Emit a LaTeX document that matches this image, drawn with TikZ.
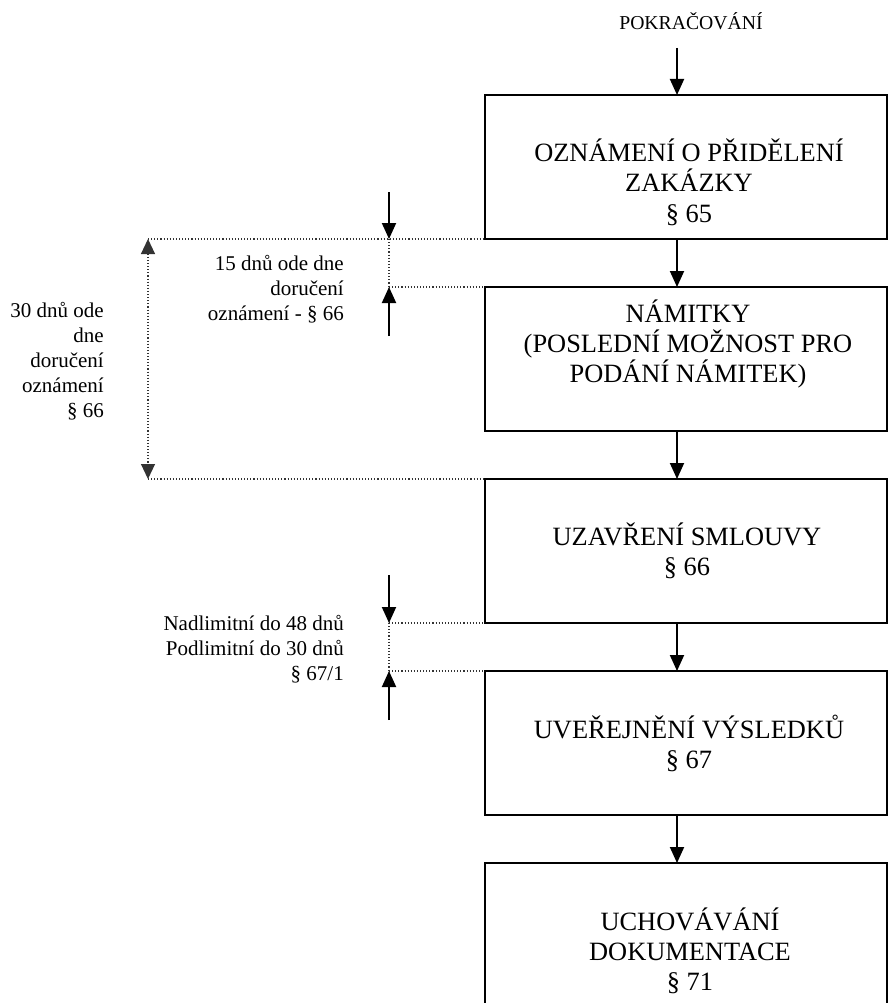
\documentclass[tikz,border=0pt]{standalone}
\usepackage{fontspec}
\setmainfont{Liberation Serif}
\usetikzlibrary{arrows.meta}
\begin{document}
\begin{tikzpicture}[x=1pt,y=-1pt,
 box/.style={draw, line width=2.2pt, minimum width=402pt, minimum height=144pt, inner sep=0pt, outer sep=0pt, anchor=north west},
 tallbox/.style={box, minimum height=170pt},
 boxtext/.style={anchor=base, align=center, font=\fontsize{26.4}{30}\selectfont, inner sep=0pt},
 lbl/.style={anchor=base east, align=right, font=\fontsize{21}{25}\selectfont, inner sep=0pt},
 toptext/.style={anchor=base, font=\fontsize{19.7}{24}\selectfont, inner sep=0pt},
 arr/.style={line width=1.9pt, -{Triangle[width=14pt,length=16pt]}},
 dotline/.style={line width=1.1pt, dash pattern=on 1.1pt off 2pt, black!80},
 dimarr/.style={dotline, {Triangle[width=14pt,length=15pt]}-{Triangle[width=14pt,length=15pt]}},
]
\useasboundingbox (0,0) rectangle (888,1003);
\clip (0,0) rectangle (888,1003);

% boxes
\node[box] (b1) at (485,95) {};
\node[box] (b2) at (485,287) {};
\node[box] (b3) at (485,479) {};
\node[box] (b4) at (485,671) {};
\node[tallbox] (b5) at (485,863) {};

% box texts (anchored at the baseline of the last line)
\node[boxtext] (t1) at (689,222) {OZNÁMENÍ O PŘIDĚLENÍ\\ZAKÁZKY\\§ 65};
\node[boxtext] (t2) at (688,382) {NÁMITKY\\(POSLEDNÍ MOŽNOST PRO\\PODÁNÍ NÁMITEK)};
\node[boxtext] (t3) at (687,575) {UZAVŘENÍ SMLOUVY\\§ 66};
\node[boxtext] (t4) at (689,768) {UVEŘEJNĚNÍ VÝSLEDKŮ\\§ 67};
\node[boxtext] (t5) at (690,990) {UCHOVÁVÁNÍ\\DOKUMENTACE\\§ 71};

% top text
\node[toptext] (cont) at (691,30) {POKRAČOVÁNÍ};

% main arrows
\coordinate (ax) at (677,0);
\coordinate (c0) at (677,48);
\draw[arr] (c0) -- (b1.north -| ax);
\draw[arr] (b1.south -| ax) -- (b2.north -| ax);
\draw[arr] (b2.south -| ax) -- (b3.north -| ax);
\draw[arr] (b3.south -| ax) -- (b4.north -| ax);
\draw[arr] (b4.south -| ax) -- (b5.north -| ax);

% 30-day / 15-day markers
\coordinate (p1) at (148,239);
\coordinate (p2) at (148,479);
\coordinate (q1) at (389,239);
\coordinate (q2) at (389,287);
\coordinate (a1) at (389,192);
\coordinate (a2) at (389,336);
\draw[dotline] (p1) -- (b1.south west);
\draw[dotline] (q2) -- (b2.north west);
\draw[dotline] (q1) -- (q2);
\draw[dotline] (p2) -- (b3.north west);
\draw[dimarr] (p1) -- (p2);
\draw[arr] (a1) -- (q1);
\draw[arr] (a2) -- (q2);

% 48/30-day markers
\coordinate (r1) at (389,623);
\coordinate (r2) at (389,671);
\coordinate (a3) at (389,575);
\coordinate (a4) at (389,720);
\draw[dotline] (r1) -- (b3.south west);
\draw[dotline] (r2) -- (b4.north west);
\draw[dotline] (r1) -- (r2);
\draw[arr] (a3) -- (r1);
\draw[arr] (a4) -- (r2);

% labels (anchored at the baseline of the last line)
\node[lbl] (l15) at (344,320) {15 dnů ode dne\\doručení\\oznámení - § 66};
\node[lbl] (l30) at (104,417) {30 dnů ode\\dne\\doručení\\oznámení\\§ 66};
\node[lbl] (lnad) at (344,680) {Nadlimitní do 48 dnů\\Podlimitní do 30 dnů\\§ 67/1};
\end{tikzpicture}
\end{document}
